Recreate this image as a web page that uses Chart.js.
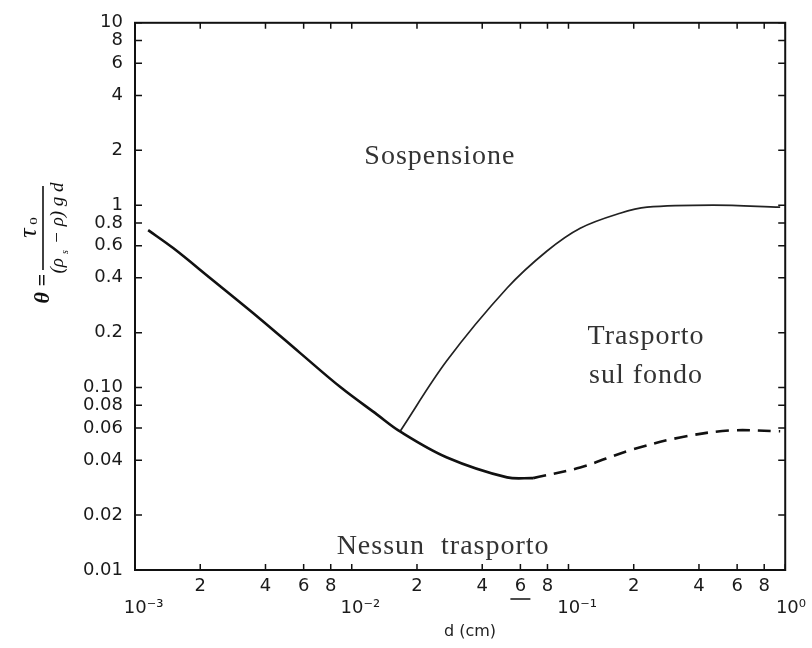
<!DOCTYPE html>
<html>
<head>
<meta charset="utf-8">
<script src="https://cdn.jsdelivr.net/npm/chart.js@4.4.0/dist/chart.umd.min.js"></script>
<style>
  body { margin: 0; background: #fff; }
  canvas { display: block; }
</style>
</head>
<body>
<canvas id="shieldsChart" width="812" height="648"></canvas>
<script>
// tick positions and labels
const xTickValues = [0.001, 0.002, 0.004, 0.006, 0.008, 0.01, 0.02, 0.04, 0.06, 0.08, 0.1, 0.2, 0.4, 0.6, 0.8, 1];
const xTickLabels = [['', '   10⁻³'], '2', '4', '6', '8', ['', '   10⁻²'], '2', '4', '6', '8', ['', '   10⁻¹'], '2', '4', '6', '8', ['', '  10⁰']];
const yTickValues = [0.01, 0.02, 0.04, 0.06, 0.08, 0.1, 0.2, 0.4, 0.6, 0.8, 1, 2, 4, 6, 8, 10];
const yTickLabels = ['0.01', '0.02', '0.04', '0.06', '0.08', '0.10', '0.2', '0.4', '0.6', '0.8', '1', '2', '4', '6', '8', '10'];

// threshold curve (solid, lower branch)
const lowerD = [0.00115, 0.0015, 0.00222, 0.00378, 0.00577, 0.00883, 0.0131, 0.0167, 0.0275, 0.0521, 0.0687];
const lowerTheta = [0.73, 0.582, 0.399, 0.238, 0.155, 0.101, 0.0711, 0.0575, 0.0414, 0.0322, 0.0319];

// suspension limit (solid, upper branch)
const upperD = [0.0167, 0.0275, 0.0521, 0.0796, 0.1133, 0.173, 0.2305, 0.465, 0.948];
const upperTheta = [0.0575, 0.1406, 0.3515, 0.561, 0.748, 0.904, 0.975, 1.0, 0.975];

// threshold curve continuation (dashed)
const dashD = [0.0687, 0.1133, 0.192, 0.327, 0.557, 0.948];
const dashTheta = [0.0319, 0.0365, 0.0453, 0.0533, 0.0582, 0.0576];

function pts(xs, ys) {
    return xs.map((x, i) => ({ x: x, y: ys[i] }));
}

// region labels, placed in data coordinates
const regionTexts = [
    { text: 'Sospensione', d: 0.0255, t: 1.85 },
    { text: 'Trasporto', d: 0.228, t: 0.19 },
    { text: 'sul fondo', d: 0.228, t: 0.116 },
    { text: 'Nessun  trasporto', d: 0.0264, t: 0.0135 }
];

const decorations = {
    id: 'decorations',
    afterDraw(chart) {
        const ctx = chart.ctx;
        const a = chart.chartArea;
        const xs = chart.scales.x;
        const ys = chart.scales.y;
        ctx.save();
        ctx.strokeStyle = '#111';
        ctx.lineWidth = 2;
        ctx.strokeRect(a.left, a.top, a.right - a.left, a.bottom - a.top);

        // inward tick marks on all four sides
        ctx.lineWidth = 1.5;
        ctx.beginPath();
        xTickValues.forEach(v => {
            const px = xs.getPixelForValue(v);
            ctx.moveTo(px, a.bottom); ctx.lineTo(px, a.bottom - 6);
            ctx.moveTo(px, a.top); ctx.lineTo(px, a.top + 6);
        });
        yTickValues.forEach(v => {
            const py = ys.getPixelForValue(v);
            ctx.moveTo(a.left, py); ctx.lineTo(a.left + 7, py);
            ctx.moveTo(a.right, py); ctx.lineTo(a.right - 7, py);
        });
        ctx.stroke();

        // underline under the "6" of the second decade
        const u = xs.getPixelForValue(0.06);
        ctx.beginPath();
        ctx.moveTo(u - 10, 599); ctx.lineTo(u + 10, 599);
        ctx.stroke();

        // region labels
        ctx.fillStyle = '#333';
        ctx.font = '28px "Liberation Serif", serif';
        ctx.letterSpacing = '1px';
        ctx.textAlign = 'center';
        ctx.textBaseline = 'middle';
        regionTexts.forEach(r => {
            ctx.fillText(r.text, xs.getPixelForValue(r.d), ys.getPixelForValue(r.t));
        });
        ctx.letterSpacing = '0px';

        // x axis title
        ctx.fillStyle = '#222';
        ctx.font = '16px "DejaVu Sans", sans-serif';
        ctx.fillText('d (cm)', 470, 632);

        // y axis formula, rotated
        ctx.translate(43, 230);
        ctx.rotate(-Math.PI / 2);
        ctx.strokeStyle = '#111';
        ctx.lineWidth = 1.6;
        ctx.beginPath();
        ctx.moveTo(-40, 0); ctx.lineTo(44, 0);
        ctx.stroke();
        ctx.fillStyle = '#111';
        ctx.font = 'italic 26px "Liberation Serif", serif';
        ctx.textAlign = 'center';
        ctx.textBaseline = 'alphabetic';
        ctx.fillText('τ', -3, -7);
        ctx.font = '15px "Liberation Serif", serif';
        ctx.fillText('o', 9, -6);
        ctx.font = 'italic 19px "Liberation Serif", serif';
        ctx.textBaseline = 'top';
        ctx.fillText('(ρ   − ρ) g d', 2, 5);
        ctx.font = 'italic 10px "Liberation Serif", serif';
        ctx.fillText('s', -22, 17);
        ctx.font = 'italic bold 22px "Liberation Serif", serif';
        ctx.textAlign = 'right';
        ctx.textBaseline = 'middle';
        ctx.fillText('θ =', -44, 0);
        ctx.restore();
    }
};

const whiteBg = {
    id: 'whiteBg',
    beforeDraw(chart) {
        const ctx = chart.ctx;
        ctx.save();
        ctx.fillStyle = '#fff';
        ctx.fillRect(0, 0, chart.width, chart.height);
        ctx.restore();
    }
};

const tickFont = { family: '"DejaVu Sans", sans-serif', size: 18 };

new Chart(document.getElementById('shieldsChart').getContext('2d'), {
    type: 'line',
    data: {
        datasets: [
            {
                label: 'Soglia di movimento',
                data: pts(lowerD, lowerTheta),
                borderColor: '#111',
                borderWidth: 2.6,
                pointRadius: 0,
                tension: 0.35,
                fill: false
            },
            {
                label: 'Limite di sospensione',
                data: pts(upperD, upperTheta),
                borderColor: '#222',
                borderWidth: 1.7,
                pointRadius: 0,
                tension: 0.35,
                fill: false
            },
            {
                label: 'Soglia (estrapolata)',
                data: pts(dashD, dashTheta),
                borderColor: '#111',
                borderWidth: 2.6,
                borderDash: [13, 8],
                pointRadius: 0,
                tension: 0.35,
                fill: false
            }
        ]
    },
    options: {
        responsive: false,
        animation: false,
        layout: { padding: { top: 21, right: 26, bottom: 0, left: 0 } },
        plugins: {
            legend: { display: false },
            tooltip: { enabled: false }
        },
        scales: {
            x: {
                type: 'logarithmic',
                min: 0.001,
                max: 1,
                afterBuildTicks(scale) {
                    scale.ticks = xTickValues.map(v => ({ value: v }));
                },
                afterFit(scale) { scale.height = 78; },
                grid: { display: false, drawTicks: false },
                border: { display: false },
                ticks: {
                    autoSkip: false,
                    maxRotation: 0,
                    padding: 6,
                    color: '#1a1a1a',
                    font: tickFont,
                    callback: (value, index) => xTickLabels[index]
                }
            },
            y: {
                type: 'logarithmic',
                min: 0.01,
                max: 10,
                afterBuildTicks(scale) {
                    scale.ticks = yTickValues.map(v => ({ value: v }));
                },
                afterFit(scale) { scale.width = 135; },
                grid: { display: false, drawTicks: false },
                border: { display: false },
                ticks: {
                    autoSkip: false,
                    padding: 12,
                    color: '#1a1a1a',
                    font: tickFont,
                    callback: (value, index) => yTickLabels[index]
                }
            }
        }
    },
    plugins: [whiteBg, decorations]
});
</script>
</body>
</html>
